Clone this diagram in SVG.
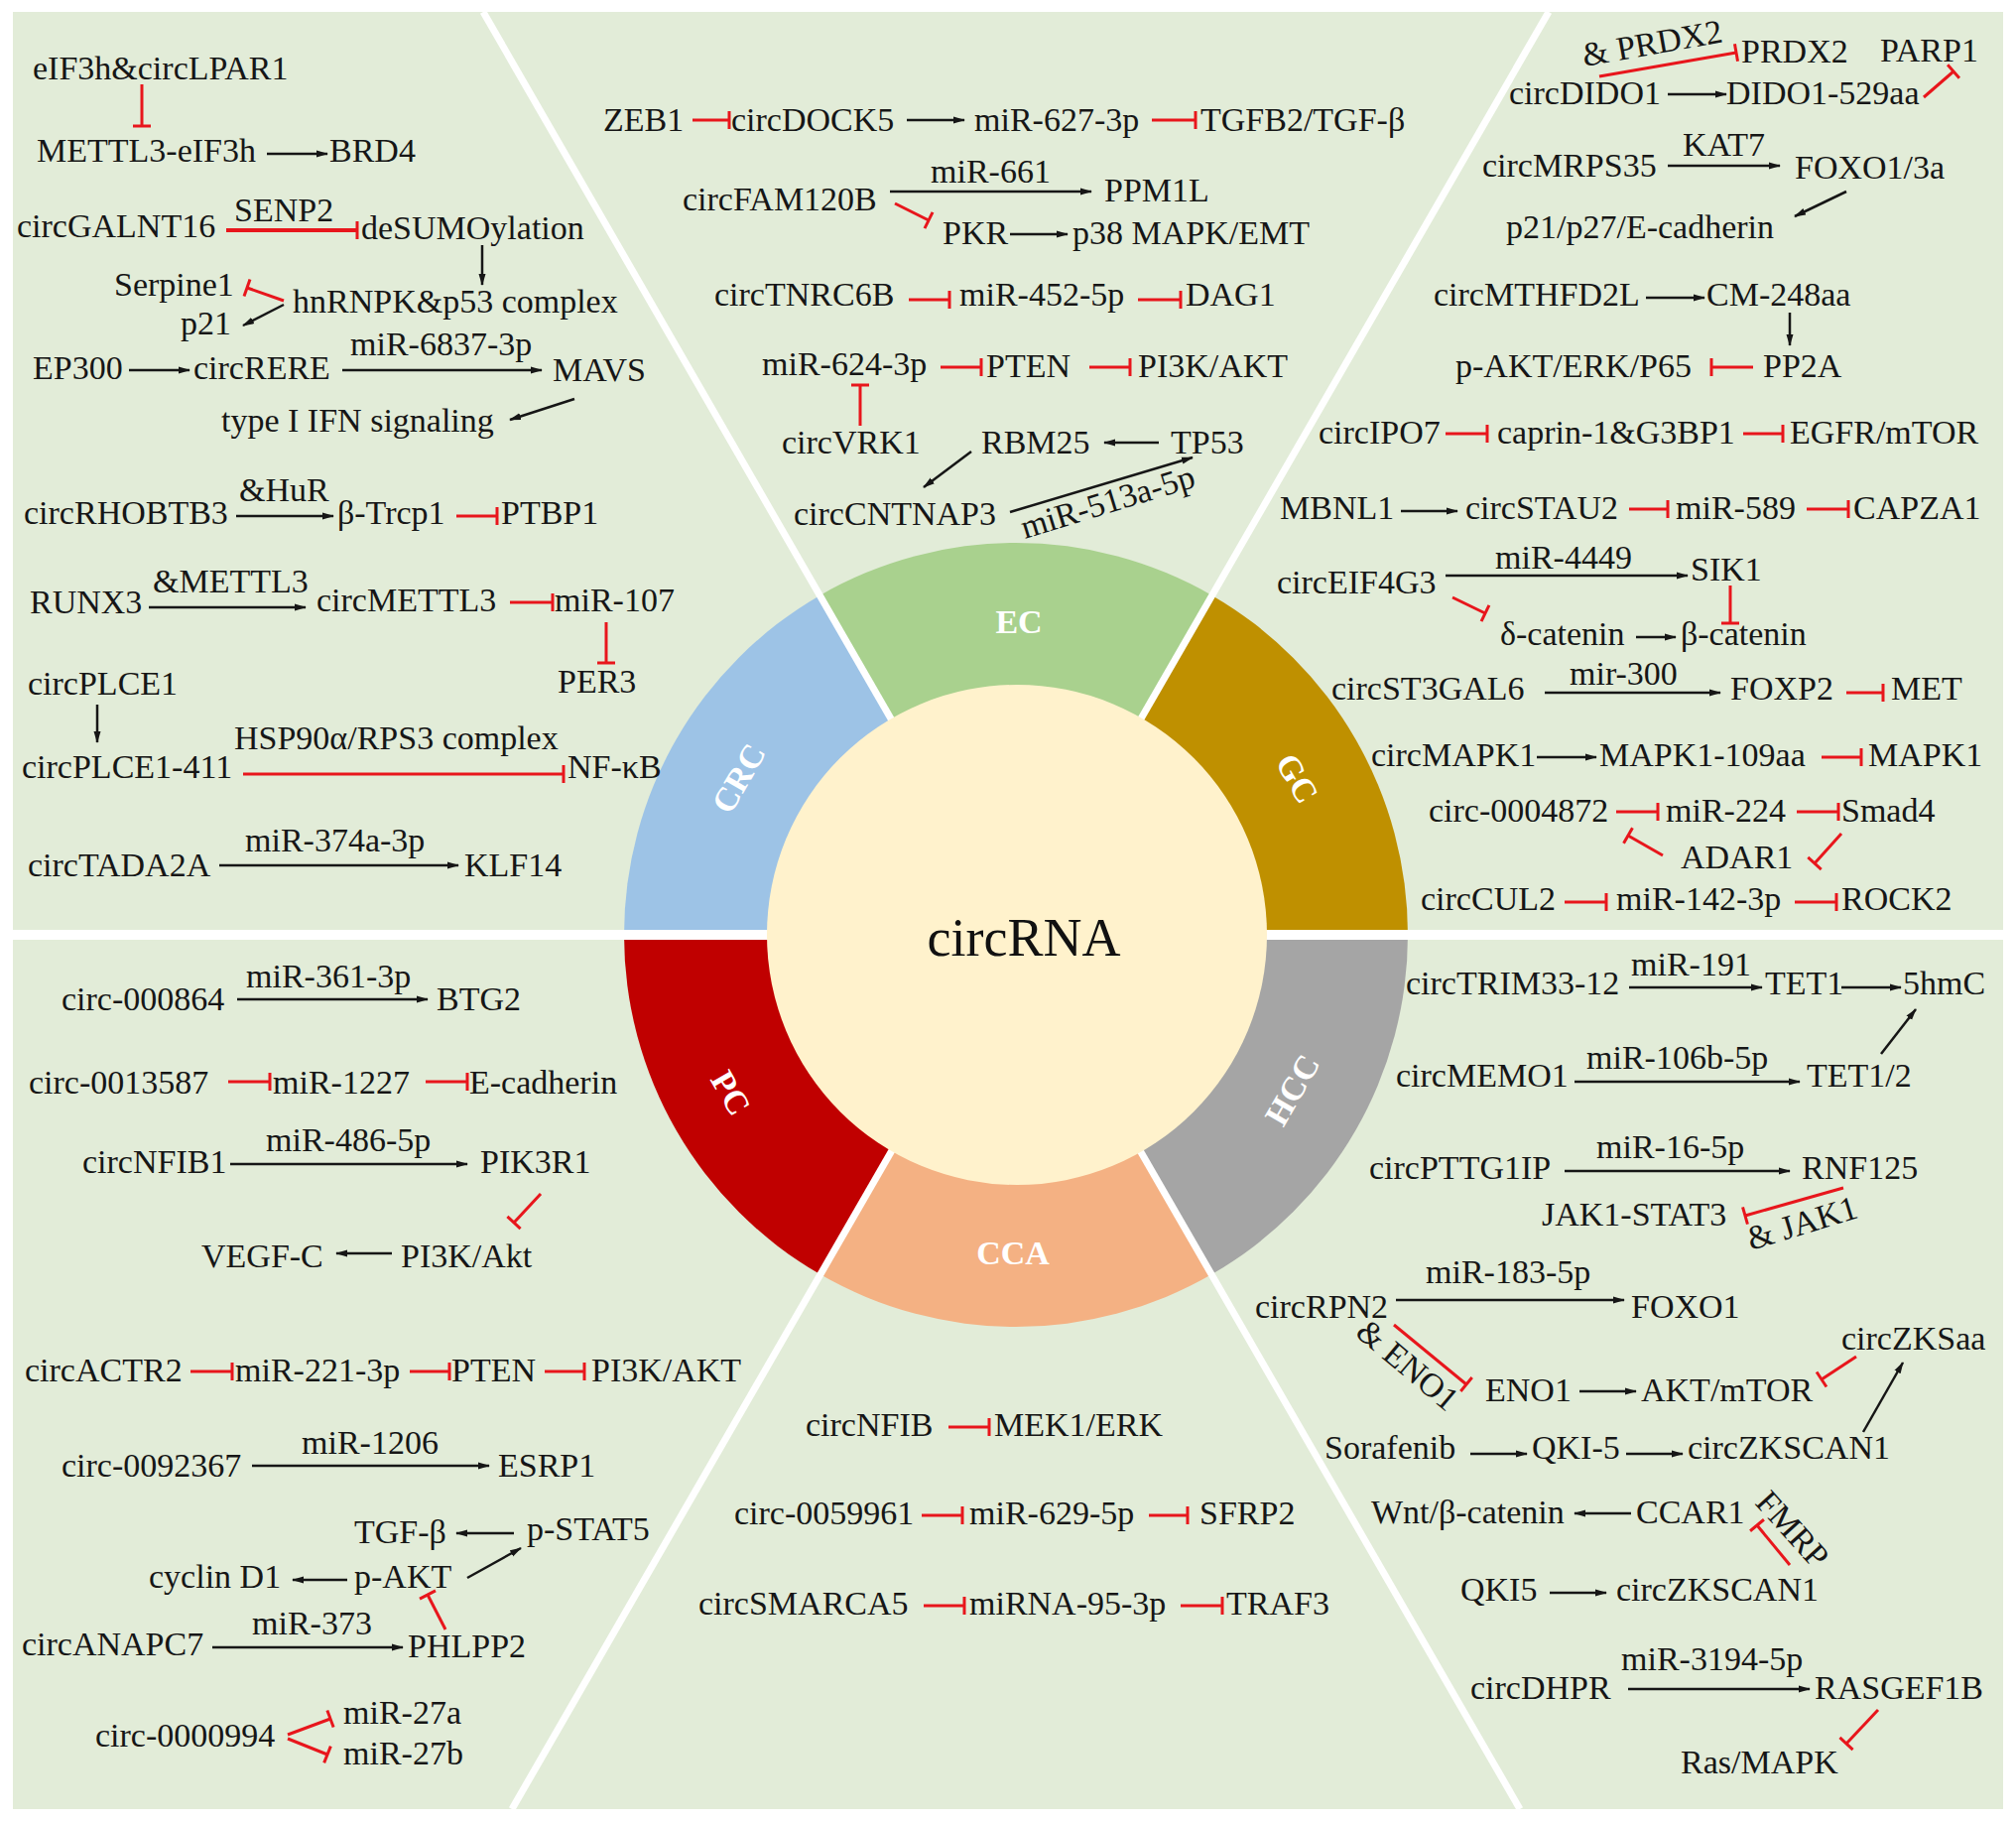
<svg xmlns="http://www.w3.org/2000/svg" width="2032" height="1837" viewBox="0 0 2032 1837">
<style>
.t{font-family:"Liberation Serif","Times New Roman",serif;font-size:34px;fill:#161616}
.lab{font-family:"Liberation Serif","Times New Roman",serif;font-size:34px;font-weight:bold;fill:#ffffff;text-anchor:middle}
.a{stroke:#161616;stroke-width:2.5;fill:none;marker-end:url(#ah)}
.i{stroke:#e8161c;stroke-width:3;fill:none;marker-end:url(#tb)}
.sep{stroke:#ffffff;stroke-width:7}
</style>
<defs>
<marker id="ah" viewBox="0 0 12 8" refX="11" refY="4" markerWidth="12" markerHeight="8" markerUnits="userSpaceOnUse" orient="auto"><path d="M0,0.5 L12,4 L0,7.5 Z" fill="#161616"/></marker>
<marker id="tb" viewBox="0 0 4 20" refX="2" refY="10" markerWidth="4" markerHeight="20" markerUnits="userSpaceOnUse" orient="auto"><path d="M2,1 V19" stroke="#e8161c" stroke-width="3"/></marker>
</defs>
<rect width="2032" height="1837" fill="#ffffff"/>
<rect x="13" y="12" width="2006" height="1811" fill="#e2ecd8"/>
<g id="wheel">
<g id="seg-GC"><path d="M1024,942 L1419,942 A395,395 0 0 0 1221.5,599.9 Z" fill="#bf9000"/></g>
<g id="seg-EC"><path d="M1024,942 L1221.5,599.9 A395,395 0 0 0 826.5,599.9 Z" fill="#a9d18e"/></g>
<g id="seg-CRC"><path d="M1024,942 L826.5,599.9 A395,395 0 0 0 629,942 Z" fill="#9dc3e6"/></g>
<g id="seg-PC"><path d="M1024,942 L629,942 A395,395 0 0 0 826.5,1284.1 Z" fill="#c00000"/></g>
<g id="seg-CCA"><path d="M1024,942 L826.5,1284.1 A395,395 0 0 0 1221.5,1284.1 Z" fill="#f4b183"/></g>
<g id="seg-HCC"><path d="M1024,942 L1221.5,1284.1 A395,395 0 0 0 1419,942 Z" fill="#a5a5a5"/></g>
</g>
<g id="separators">
<line class="sep" x1="13" y1="942" x2="2019" y2="942" style="stroke-width:10"/>
<line class="sep" x1="487" y1="12" x2="1532" y2="1823"/>
<line class="sep" x1="1561" y1="12" x2="516" y2="1823"/>
</g>
<g id="center"><circle cx="1025" cy="942" r="252" fill="#fff2cc"/>
<text x="1032" y="963" style="font-family:'Liberation Serif','Times New Roman',serif;font-size:54px;fill:#111;text-anchor:middle">circRNA</text></g>
<g id="labels">
<text class="lab" x="1027" y="638">EC</text>
<text class="lab" x="1021" y="1274">CCA</text>
<text class="lab" transform="translate(744,784) rotate(-60)" y="12">CRC</text>
<text class="lab" transform="translate(1308,784) rotate(60)" y="12">GC</text>
<text class="lab" transform="translate(737,1101) rotate(60)" y="12">PC</text>
<text class="lab" transform="translate(1302,1098) rotate(-60)" y="12">HCC</text>
</g>
<g id="connectors">
<line class="i" x1="143" y1="85" x2="143" y2="127"/>
<line class="a" x1="269" y1="155" x2="330" y2="155"/>
<line class="i" x1="228" y1="232" x2="360" y2="232" style="stroke-width:4"/>
<line class="a" x1="486" y1="247" x2="486" y2="287"/>
<line class="i" x1="286" y1="303" x2="249" y2="290"/>
<line class="a" x1="286" y1="307" x2="245" y2="328"/>
<line class="a" x1="130" y1="373" x2="191" y2="373"/>
<line class="a" x1="345" y1="373" x2="546" y2="373"/>
<line class="a" x1="579" y1="402" x2="514" y2="423"/>
<line class="a" x1="238" y1="520" x2="336" y2="520"/>
<line class="i" x1="460" y1="520" x2="501" y2="520"/>
<line class="a" x1="150" y1="612" x2="308" y2="612"/>
<line class="i" x1="514" y1="607" x2="557" y2="607"/>
<line class="i" x1="611" y1="627" x2="611" y2="668"/>
<line class="a" x1="98" y1="710" x2="98" y2="748"/>
<line class="i" x1="245" y1="780" x2="568" y2="780"/>
<line class="a" x1="221" y1="872" x2="462" y2="872"/>
<line class="i" x1="698" y1="121" x2="735" y2="121"/>
<line class="a" x1="914" y1="121" x2="972" y2="121"/>
<line class="i" x1="1161" y1="121" x2="1205" y2="121"/>
<line class="a" x1="897" y1="193" x2="1100" y2="193"/>
<line class="i" x1="902" y1="205" x2="936" y2="222"/>
<line class="a" x1="1018" y1="236" x2="1076" y2="236"/>
<line class="i" x1="916" y1="302" x2="957" y2="302"/>
<line class="i" x1="1147" y1="302" x2="1190" y2="302"/>
<line class="i" x1="948" y1="370" x2="989" y2="370"/>
<line class="i" x1="1098" y1="370" x2="1139" y2="370"/>
<line class="i" x1="867" y1="429" x2="867" y2="388"/>
<line class="a" x1="1168" y1="446" x2="1113" y2="446"/>
<line class="a" x1="979" y1="455" x2="931" y2="491"/>
<line class="a" x1="1018" y1="516" x2="1202" y2="461"/>
<line class="i" x1="1612" y1="77" x2="1750" y2="53"/>
<line class="a" x1="1681" y1="95" x2="1740" y2="95"/>
<line class="i" x1="1939" y1="98" x2="1969" y2="72"/>
<line class="a" x1="1681" y1="167" x2="1794" y2="167"/>
<line class="a" x1="1861" y1="193" x2="1809" y2="218"/>
<line class="a" x1="1659" y1="300" x2="1718" y2="300"/>
<line class="a" x1="1804" y1="315" x2="1804" y2="348"/>
<line class="i" x1="1767" y1="370" x2="1725" y2="370"/>
<line class="i" x1="1457" y1="437" x2="1499" y2="437"/>
<line class="i" x1="1757" y1="437" x2="1797" y2="437"/>
<line class="a" x1="1412" y1="515" x2="1469" y2="515"/>
<line class="i" x1="1642" y1="513" x2="1681" y2="513"/>
<line class="i" x1="1821" y1="513" x2="1863" y2="513"/>
<line class="a" x1="1457" y1="580" x2="1701" y2="580"/>
<line class="i" x1="1464" y1="602" x2="1497" y2="618"/>
<line class="i" x1="1744" y1="590" x2="1744" y2="628"/>
<line class="a" x1="1649" y1="642" x2="1689" y2="642"/>
<line class="a" x1="1557" y1="698" x2="1734" y2="698"/>
<line class="i" x1="1861" y1="698" x2="1898" y2="698"/>
<line class="a" x1="1549" y1="763" x2="1609" y2="763"/>
<line class="i" x1="1836" y1="763" x2="1876" y2="763"/>
<line class="i" x1="1629" y1="818" x2="1671" y2="818"/>
<line class="i" x1="1811" y1="818" x2="1853" y2="818"/>
<line class="i" x1="1676" y1="862" x2="1641" y2="842"/>
<line class="i" x1="1856" y1="840" x2="1829" y2="870"/>
<line class="i" x1="1577" y1="909" x2="1619" y2="909"/>
<line class="i" x1="1809" y1="909" x2="1851" y2="909"/>
<line class="a" x1="239" y1="1007" x2="431" y2="1007"/>
<line class="i" x1="230" y1="1090" x2="272" y2="1090"/>
<line class="i" x1="429" y1="1090" x2="471" y2="1090"/>
<line class="a" x1="232" y1="1173" x2="471" y2="1173"/>
<line class="i" x1="545" y1="1203" x2="518" y2="1232"/>
<line class="a" x1="395" y1="1263" x2="339" y2="1263"/>
<line class="i" x1="192" y1="1382" x2="234" y2="1382"/>
<line class="i" x1="413" y1="1382" x2="453" y2="1382"/>
<line class="i" x1="549" y1="1382" x2="589" y2="1382"/>
<line class="a" x1="254" y1="1477" x2="493" y2="1477"/>
<line class="a" x1="518" y1="1545" x2="460" y2="1545"/>
<line class="a" x1="471" y1="1590" x2="525" y2="1560"/>
<line class="a" x1="350" y1="1592" x2="295" y2="1592"/>
<line class="i" x1="449" y1="1642" x2="431" y2="1607"/>
<line class="a" x1="214" y1="1660" x2="406" y2="1660"/>
<line class="i" x1="290" y1="1748" x2="333" y2="1732"/>
<line class="i" x1="290" y1="1752" x2="330" y2="1768"/>
<line class="i" x1="956" y1="1438" x2="997" y2="1438"/>
<line class="i" x1="929" y1="1527" x2="970" y2="1527"/>
<line class="i" x1="1158" y1="1527" x2="1197" y2="1527"/>
<line class="i" x1="931" y1="1618" x2="972" y2="1618"/>
<line class="i" x1="1190" y1="1618" x2="1232" y2="1618"/>
<line class="a" x1="1642" y1="995" x2="1776" y2="995"/>
<line class="a" x1="1856" y1="995" x2="1916" y2="995"/>
<line class="a" x1="1896" y1="1062" x2="1931" y2="1017"/>
<line class="a" x1="1587" y1="1090" x2="1814" y2="1090"/>
<line class="a" x1="1577" y1="1180" x2="1804" y2="1180"/>
<line class="i" x1="1858" y1="1197" x2="1759" y2="1225"/>
<line class="a" x1="1407" y1="1310" x2="1637" y2="1310"/>
<line class="i" x1="1405" y1="1335" x2="1478" y2="1395"/>
<line class="a" x1="1592" y1="1402" x2="1649" y2="1402"/>
<line class="i" x1="1871" y1="1367" x2="1836" y2="1390"/>
<line class="a" x1="1878" y1="1443" x2="1918" y2="1373"/>
<line class="a" x1="1482" y1="1465" x2="1539" y2="1465"/>
<line class="a" x1="1639" y1="1465" x2="1696" y2="1465"/>
<line class="a" x1="1644" y1="1525" x2="1587" y2="1525"/>
<line class="i" x1="1804" y1="1577" x2="1771" y2="1537"/>
<line class="a" x1="1562" y1="1605" x2="1619" y2="1605"/>
<line class="a" x1="1641" y1="1702" x2="1824" y2="1702"/>
<line class="i" x1="1893" y1="1723" x2="1861" y2="1757"/>
</g>
<g id="nodes-CRC">
<g id="n-eIF3h-circLPAR1"><text class="t" x="33" y="80">eIF3h&amp;circLPAR1</text></g>
<g id="n-METTL3-eIF3h"><text class="t" x="37" y="163">METTL3-eIF3h</text></g>
<g id="n-BRD4"><text class="t" x="332" y="163">BRD4</text></g>
<g id="n-circGALNT16"><text class="t" x="17" y="239">circGALNT16</text></g>
<g id="n-SENP2"><text class="t" x="236" y="223">SENP2</text></g>
<g id="n-deSUMOylation"><text class="t" x="364" y="241">deSUMOylation</text></g>
<g id="n-Serpine1"><text class="t" x="115" y="298">Serpine1</text></g>
<g id="n-hnRNPK"><text class="t" x="295" y="315">hnRNPK&amp;p53 complex</text></g>
<g id="n-p21"><text class="t" x="182" y="337">p21</text></g>
<g id="n-EP300"><text class="t" x="33" y="382">EP300</text></g>
<g id="n-circRERE"><text class="t" x="195" y="382">circRERE</text></g>
<g id="n-miR-6837"><text class="t" x="353" y="358">miR-6837-3p</text></g>
<g id="n-MAVS"><text class="t" x="557" y="384">MAVS</text></g>
<g id="n-IFN"><text class="t" x="223" y="435">type I IFN signaling</text></g>
<g id="n-circRHOBTB3"><text class="t" x="24" y="528">circRHOBTB3</text></g>
<g id="n-HuR"><text class="t" x="241" y="505">&amp;HuR</text></g>
<g id="n-bTrcp1"><text class="t" x="340" y="528">β-Trcp1</text></g>
<g id="n-PTBP1"><text class="t" x="505" y="528">PTBP1</text></g>
<g id="n-RUNX3"><text class="t" x="30" y="618">RUNX3</text></g>
<g id="n-METTL3"><text class="t" x="154" y="597">&amp;METTL3</text></g>
<g id="n-circMETTL3"><text class="t" x="319" y="616">circMETTL3</text></g>
<g id="n-miR-107"><text class="t" x="559" y="616">miR-107</text></g>
<g id="n-PER3"><text class="t" x="562" y="698">PER3</text></g>
<g id="n-circPLCE1"><text class="t" x="28" y="700">circPLCE1</text></g>
<g id="n-HSP90"><text class="t" x="236" y="755">HSP90α/RPS3 complex</text></g>
<g id="n-circPLCE1-411"><text class="t" x="22" y="784">circPLCE1-411</text></g>
<g id="n-NFkB"><text class="t" x="572" y="784">NF-κB</text></g>
<g id="n-circTADA2A"><text class="t" x="28" y="883">circTADA2A</text></g>
<g id="n-miR-374a"><text class="t" x="247" y="858">miR-374a-3p</text></g>
<g id="n-KLF14"><text class="t" x="468" y="883">KLF14</text></g>
</g>
<g id="nodes-EC">
<g id="n-ZEB1"><text class="t" x="608" y="132">ZEB1</text></g>
<g id="n-circDOCK5"><text class="t" x="737" y="132">circDOCK5</text></g>
<g id="n-miR-627"><text class="t" x="982" y="132">miR-627-3p</text></g>
<g id="n-TGFB2"><text class="t" x="1210" y="132">TGFB2/TGF-β</text></g>
<g id="n-miR-661"><text class="t" x="938" y="184">miR-661</text></g>
<g id="n-circFAM120B"><text class="t" x="688" y="212">circFAM120B</text></g>
<g id="n-PPM1L"><text class="t" x="1113" y="203">PPM1L</text></g>
<g id="n-PKR"><text class="t" x="950" y="246">PKR</text></g>
<g id="n-p38"><text class="t" x="1081" y="246">p38 MAPK/EMT</text></g>
<g id="n-circTNRC6B"><text class="t" x="720" y="308">circTNRC6B</text></g>
<g id="n-miR-452"><text class="t" x="967" y="308">miR-452-5p</text></g>
<g id="n-DAG1"><text class="t" x="1195" y="308">DAG1</text></g>
<g id="n-miR-624"><text class="t" x="768" y="378">miR-624-3p</text></g>
<g id="n-PTEN-ec"><text class="t" x="994" y="380">PTEN</text></g>
<g id="n-PI3K-ec"><text class="t" x="1147" y="380">PI3K/AKT</text></g>
<g id="n-circVRK1"><text class="t" x="788" y="457">circVRK1</text></g>
<g id="n-RBM25"><text class="t" x="989" y="457">RBM25</text></g>
<g id="n-TP53"><text class="t" x="1180" y="457">TP53</text></g>
<g id="n-circCNTNAP3"><text class="t" x="800" y="529">circCNTNAP3</text></g>
<g id="n-miR-513a"><text class="t" transform="translate(1033,543) rotate(-17)">miR-513a-5p</text></g>
</g>
<g id="nodes-GC">
<g id="n-andPRDX2"><text class="t" transform="translate(1597,67) rotate(-10)">&amp; PRDX2</text></g>
<g id="n-PRDX2"><text class="t" x="1755" y="63">PRDX2</text></g>
<g id="n-PARP1"><text class="t" x="1895" y="62">PARP1</text></g>
<g id="n-circDIDO1"><text class="t" x="1521" y="105">circDIDO1</text></g>
<g id="n-DIDO1-529aa"><text class="t" x="1740" y="105">DIDO1-529aa</text></g>
<g id="n-circMRPS35"><text class="t" x="1494" y="178">circMRPS35</text></g>
<g id="n-KAT7"><text class="t" x="1696" y="157">KAT7</text></g>
<g id="n-FOXO13a"><text class="t" x="1809" y="180">FOXO1/3a</text></g>
<g id="n-p21p27"><text class="t" x="1518" y="240">p21/p27/E-cadherin</text></g>
<g id="n-circMTHFD2L"><text class="t" x="1445" y="308">circMTHFD2L</text></g>
<g id="n-CM-248aa"><text class="t" x="1720" y="308">CM-248aa</text></g>
<g id="n-pAKT-ERK"><text class="t" x="1467" y="380">p-AKT/ERK/P65</text></g>
<g id="n-PP2A"><text class="t" x="1777" y="380">PP2A</text></g>
<g id="n-circIPO7"><text class="t" x="1329" y="447">circIPO7</text></g>
<g id="n-caprin"><text class="t" x="1509" y="447">caprin-1&amp;G3BP1</text></g>
<g id="n-EGFR"><text class="t" x="1804" y="447">EGFR/mTOR</text></g>
<g id="n-MBNL1"><text class="t" x="1290" y="523">MBNL1</text></g>
<g id="n-circSTAU2"><text class="t" x="1477" y="523">circSTAU2</text></g>
<g id="n-miR-589"><text class="t" x="1689" y="523">miR-589</text></g>
<g id="n-CAPZA1"><text class="t" x="1868" y="523">CAPZA1</text></g>
<g id="n-miR-4449"><text class="t" x="1507" y="573">miR-4449</text></g>
<g id="n-circEIF4G3"><text class="t" x="1287" y="598">circEIF4G3</text></g>
<g id="n-SIK1"><text class="t" x="1704" y="585">SIK1</text></g>
<g id="n-dcatenin"><text class="t" x="1512" y="650">δ-catenin</text></g>
<g id="n-bcatenin"><text class="t" x="1694" y="650">β-catenin</text></g>
<g id="n-mir-300"><text class="t" x="1582" y="690">mir-300</text></g>
<g id="n-circST3GAL6"><text class="t" x="1342" y="705">circST3GAL6</text></g>
<g id="n-FOXP2"><text class="t" x="1744" y="705">FOXP2</text></g>
<g id="n-MET"><text class="t" x="1906" y="705">MET</text></g>
<g id="n-circMAPK1"><text class="t" x="1382" y="772">circMAPK1</text></g>
<g id="n-MAPK1-109aa"><text class="t" x="1612" y="772">MAPK1-109aa</text></g>
<g id="n-MAPK1"><text class="t" x="1883" y="772">MAPK1</text></g>
<g id="n-circ-0004872"><text class="t" x="1440" y="828">circ-0004872</text></g>
<g id="n-miR-224"><text class="t" x="1679" y="828">miR-224</text></g>
<g id="n-Smad4"><text class="t" x="1856" y="828">Smad4</text></g>
<g id="n-ADAR1"><text class="t" x="1694" y="875">ADAR1</text></g>
<g id="n-circCUL2"><text class="t" x="1432" y="917">circCUL2</text></g>
<g id="n-miR-142"><text class="t" x="1629" y="917">miR-142-3p</text></g>
<g id="n-ROCK2"><text class="t" x="1856" y="917">ROCK2</text></g>
</g>
<g id="nodes-PC">
<g id="n-circ-000864"><text class="t" x="62" y="1018">circ-000864</text></g>
<g id="n-miR-361"><text class="t" x="248" y="995">miR-361-3p</text></g>
<g id="n-BTG2"><text class="t" x="440" y="1018">BTG2</text></g>
<g id="n-circ-0013587"><text class="t" x="29" y="1102">circ-0013587</text></g>
<g id="n-miR-1227"><text class="t" x="275" y="1102">miR-1227</text></g>
<g id="n-Ecadherin"><text class="t" x="473" y="1102">E-cadherin</text></g>
<g id="n-circNFIB1"><text class="t" x="83" y="1182">circNFIB1</text></g>
<g id="n-miR-486"><text class="t" x="268" y="1160">miR-486-5p</text></g>
<g id="n-PIK3R1"><text class="t" x="484" y="1182">PIK3R1</text></g>
<g id="n-VEGFC"><text class="t" x="203" y="1277">VEGF-C</text></g>
<g id="n-PI3KAkt"><text class="t" x="404" y="1277">PI3K/Akt</text></g>
<g id="n-circACTR2"><text class="t" x="25" y="1392">circACTR2</text></g>
<g id="n-miR-221"><text class="t" x="237" y="1392">miR-221-3p</text></g>
<g id="n-PTEN-pc"><text class="t" x="455" y="1392">PTEN</text></g>
<g id="n-PI3K-pc"><text class="t" x="596" y="1392">PI3K/AKT</text></g>
<g id="n-circ-0092367"><text class="t" x="62" y="1488">circ-0092367</text></g>
<g id="n-miR-1206"><text class="t" x="304" y="1465">miR-1206</text></g>
<g id="n-ESRP1"><text class="t" x="502" y="1488">ESRP1</text></g>
<g id="n-TGFb"><text class="t" x="357" y="1555">TGF-β</text></g>
<g id="n-pSTAT5"><text class="t" x="531" y="1552">p-STAT5</text></g>
<g id="n-cyclinD1"><text class="t" x="150" y="1600">cyclin D1</text></g>
<g id="n-pAKT"><text class="t" x="357" y="1600">p-AKT</text></g>
<g id="n-circANAPC7"><text class="t" x="22" y="1668">circANAPC7</text></g>
<g id="n-miR-373"><text class="t" x="254" y="1647">miR-373</text></g>
<g id="n-PHLPP2"><text class="t" x="411" y="1670">PHLPP2</text></g>
<g id="n-circ-0000994"><text class="t" x="96" y="1760">circ-0000994</text></g>
<g id="n-miR-27a"><text class="t" x="346" y="1737">miR-27a</text></g>
<g id="n-miR-27b"><text class="t" x="346" y="1778">miR-27b</text></g>
</g>
<g id="nodes-CCA">
<g id="n-circNFIB"><text class="t" x="812" y="1447">circNFIB</text></g>
<g id="n-MEK1ERK"><text class="t" x="1002" y="1447">MEK1/ERK</text></g>
<g id="n-circ-0059961"><text class="t" x="740" y="1536">circ-0059961</text></g>
<g id="n-miR-629"><text class="t" x="977" y="1536">miR-629-5p</text></g>
<g id="n-SFRP2"><text class="t" x="1209" y="1536">SFRP2</text></g>
<g id="n-circSMARCA5"><text class="t" x="704" y="1627">circSMARCA5</text></g>
<g id="n-miRNA-95"><text class="t" x="977" y="1627">miRNA-95-3p</text></g>
<g id="n-TRAF3"><text class="t" x="1236" y="1627">TRAF3</text></g>
</g>
<g id="nodes-HCC">
<g id="n-circTRIM33"><text class="t" x="1417" y="1002">circTRIM33-12</text></g>
<g id="n-miR-191"><text class="t" x="1644" y="983">miR-191</text></g>
<g id="n-TET1"><text class="t" x="1779" y="1002">TET1</text></g>
<g id="n-5hmC"><text class="t" x="1918" y="1002">5hmC</text></g>
<g id="n-circMEMO1"><text class="t" x="1407" y="1095">circMEMO1</text></g>
<g id="n-miR-106b"><text class="t" x="1599" y="1077">miR-106b-5p</text></g>
<g id="n-TET12"><text class="t" x="1821" y="1095">TET1/2</text></g>
<g id="n-circPTTG1IP"><text class="t" x="1380" y="1188">circPTTG1IP</text></g>
<g id="n-miR-16"><text class="t" x="1609" y="1167">miR-16-5p</text></g>
<g id="n-RNF125"><text class="t" x="1816" y="1188">RNF125</text></g>
<g id="n-JAK1STAT3"><text class="t" x="1554" y="1235">JAK1-STAT3</text></g>
<g id="n-andJAK1"><text class="t" transform="translate(1765,1260) rotate(-17)">&amp; JAK1</text></g>
<g id="n-miR-183"><text class="t" x="1437" y="1293">miR-183-5p</text></g>
<g id="n-circRPN2"><text class="t" x="1265" y="1328">circRPN2</text></g>
<g id="n-FOXO1"><text class="t" x="1644" y="1328">FOXO1</text></g>
<g id="n-andENO1"><text class="t" transform="translate(1365,1345) rotate(40)">&amp; ENO1</text></g>
<g id="n-circZKSaa"><text class="t" x="1856" y="1360">circZKSaa</text></g>
<g id="n-ENO1"><text class="t" x="1497" y="1412">ENO1</text></g>
<g id="n-AKTmTOR"><text class="t" x="1654" y="1412">AKT/mTOR</text></g>
<g id="n-Sorafenib"><text class="t" x="1335" y="1470">Sorafenib</text></g>
<g id="n-QKI-5"><text class="t" x="1544" y="1470">QKI-5</text></g>
<g id="n-circZKSCAN1-a"><text class="t" x="1701" y="1470">circZKSCAN1</text></g>
<g id="n-Wnt"><text class="t" x="1382" y="1535">Wnt/β-catenin</text></g>
<g id="n-CCAR1"><text class="t" x="1649" y="1535">CCAR1</text></g>
<g id="n-FMRP"><text class="t" transform="translate(1768,1515) rotate(48)">FMRP</text></g>
<g id="n-QKI5"><text class="t" x="1472" y="1613">QKI5</text></g>
<g id="n-circZKSCAN1-b"><text class="t" x="1629" y="1613">circZKSCAN1</text></g>
<g id="n-miR-3194"><text class="t" x="1634" y="1683">miR-3194-5p</text></g>
<g id="n-circDHPR"><text class="t" x="1482" y="1712">circDHPR</text></g>
<g id="n-RASGEF1B"><text class="t" x="1829" y="1712">RASGEF1B</text></g>
<g id="n-RasMAPK"><text class="t" x="1694" y="1787">Ras/MAPK</text></g>
</g>
</svg>
